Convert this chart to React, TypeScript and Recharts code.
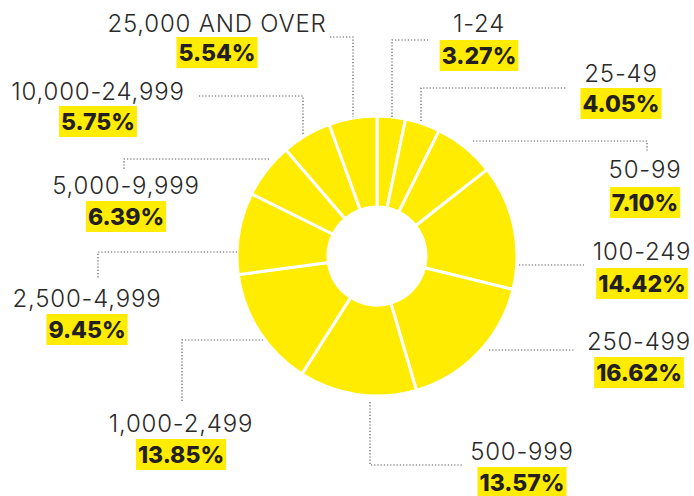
import React, { useLayoutEffect, useRef, useState } from 'react'
import { PieChart, Pie, Cell } from 'recharts'

const categories = [
  '1-24',
  '25-49',
  '50-99',
  '100-249',
  '250-499',
  '500-999',
  '1,000-2,499',
  '2,500-4,999',
  '5,000-9,999',
  '10,000-24,999',
  '25,000 AND OVER',
]

const shares = [3.27, 4.05, 7.1, 14.42, 16.62, 13.57, 13.85, 9.45, 6.39, 5.75, 5.54]

const shareLabels = ['3.27%', '4.05%', '7.10%', '14.42%', '16.62%', '13.57%', '13.85%', '9.45%', '6.39%', '5.75%', '5.54%']

// callout placement: label centre x, name baseline, percent box top, leader path
const layout = [
  { x: 479, nameY: 32, boxY: 40, leader: [[392, 117], [392, 40], [428, 40]] },
  { x: 621, nameY: 82, boxY: 88, leader: [[421, 121], [421, 88], [566, 88]] },
  { x: 645, nameY: 178, boxY: 187, leader: [[473, 141], [647, 141], [647, 152]] },
  { x: 642, nameY: 260, boxY: 268, leader: [[519, 265], [584, 265]] },
  { x: 639, nameY: 350, boxY: 357, leader: [[489, 350], [574, 350]] },
  { x: 522, nameY: 460, boxY: 467, leader: [[370, 402], [370, 465], [462, 465]] },
  { x: 181, nameY: 432, boxY: 439, leader: [[263, 340], [182, 340], [182, 402]] },
  { x: 87, nameY: 307, boxY: 314, leader: [[237, 252], [98, 252], [98, 279]] },
  { x: 126, nameY: 194, boxY: 201, leader: [[269, 159], [124, 159], [124, 169]] },
  { x: 98, nameY: 100, boxY: 106, leader: [[199, 96], [303, 96], [303, 136]] },
  { x: 217, nameY: 32, boxY: 37, leader: [[330, 37], [353, 37], [353, 117]] },
]

const data = categories.map((name, i) => ({ name, value: shares[i] }))

const YELLOW = '#FFEC00'
const FONT = 'Inter, "Open Sans", sans-serif'

function Callout({ index }: any) {
  const pos = layout[index]
  const textRef = useRef<SVGTextElement>(null)
  const [w, setW] = useState(76)

  useLayoutEffect(() => {
    if (textRef.current) setW(textRef.current.getBBox().width + 4)
  }, [])

  const points = pos.leader.map((p) => p.join(',')).join(' ')

  return (
    <g>
      <polyline points={points} fill="none" stroke="#555" strokeWidth={1.2} strokeDasharray="1.2 2" />
      <text
        x={pos.x}
        y={pos.nameY}
        textAnchor="middle"
        fontFamily={FONT}
        fontWeight={300}
        fontSize={24}
        letterSpacing={0.8}
        fill="#2a2a2a"
      >
        {categories[index]}
      </text>
      <rect x={pos.x - w / 2} y={pos.boxY} width={w} height={31} fill={YELLOW} />
      <text
        ref={textRef}
        x={pos.x}
        y={pos.boxY + 24}
        textAnchor="middle"
        fontFamily={FONT}
        fontWeight={800}
        fontSize={23}
        fill="#231f20"
      >
        {shareLabels[index]}
      </text>
    </g>
  )
}

export default function App() {
  return (
    <div style={{ position: 'absolute', left: 0, top: 0, width: 694, height: 496, background: '#fff' }}>
      <PieChart width={694} height={496} margin={{ top: 0, right: 0, bottom: 0, left: 0 }}>
        <Pie
          data={data}
          dataKey="value"
          nameKey="name"
          cx={377}
          cy={256}
          innerRadius={49}
          outerRadius={140}
          startAngle={90}
          endAngle={-270}
          stroke="#fff"
          strokeWidth={3}
          labelLine={false}
          label={(props: any) => <Callout {...props} />}
          isAnimationActive={false}
        >
          {data.map((d) => (
            <Cell key={d.name} fill={YELLOW} />
          ))}
        </Pie>
      </PieChart>
    </div>
  )
}
